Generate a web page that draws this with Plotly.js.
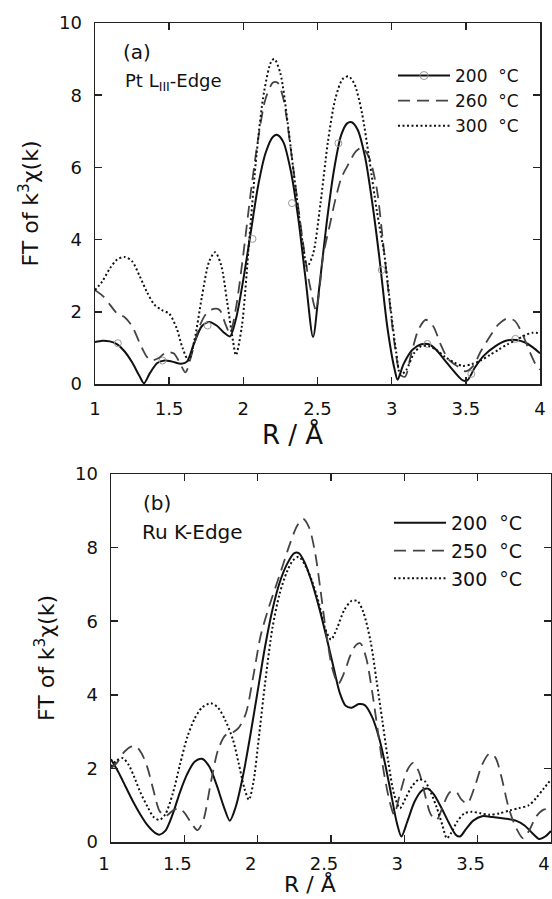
<!DOCTYPE html>
<html>
<head>
<meta charset="utf-8">
<script src="https://cdn.plot.ly/plotly-3.0.1.min.js"></script>
<style>html,body{margin:0;padding:0;background:#fff;}#chart{width:552px;height:899px;}</style>
</head>
<body>
<div id="chart"></div>
<script>
// ---------- Panel (a): Pt LIII-edge ----------
const R_a200 = [1.00,1.05,1.10,1.15,1.20,1.25,1.30,1.33,1.37,1.42,1.47,1.52,1.58,1.62,1.67,1.72,1.77,1.82,1.87,1.91,1.95,2.00,2.05,2.10,2.15,2.20,2.23,2.27,2.32,2.37,2.42,2.47,2.51,2.56,2.61,2.66,2.70,2.73,2.77,2.82,2.87,2.92,2.97,3.02,3.04,3.08,3.14,3.20,3.25,3.30,3.36,3.42,3.48,3.51,3.56,3.62,3.70,3.77,3.84,3.90,3.95,4.00];
const V_a200 = [1.16,1.20,1.18,1.10,0.90,0.60,0.22,0.02,0.30,0.58,0.65,0.62,0.56,0.62,1.15,1.60,1.72,1.62,1.42,1.32,1.80,2.90,4.20,5.50,6.40,6.85,6.90,6.70,5.90,4.60,2.90,1.30,2.60,4.40,5.90,6.90,7.22,7.25,7.05,6.30,5.00,3.40,1.60,0.40,0.12,0.55,0.95,1.10,1.10,0.95,0.65,0.35,0.10,0.10,0.45,0.78,1.05,1.20,1.22,1.15,1.02,0.85];
const R_a200_marks = [1.154,1.455,1.759,2.062,2.328,2.641,2.933,3.241,3.537,3.834];
const V_a200_marks = [1.13,0.65,1.62,4.02,5.01,6.67,3.16,1.11,0.28,1.25];

const R_a260 = [1.00,1.05,1.10,1.15,1.20,1.25,1.30,1.35,1.38,1.43,1.48,1.53,1.57,1.61,1.65,1.70,1.75,1.80,1.84,1.88,1.91,1.95,2.00,2.05,2.10,2.15,2.20,2.23,2.27,2.32,2.37,2.42,2.45,2.49,2.54,2.58,2.62,2.66,2.71,2.76,2.80,2.85,2.90,2.94,2.98,3.02,3.06,3.09,3.13,3.18,3.23,3.28,3.33,3.38,3.44,3.50,3.55,3.60,3.66,3.72,3.78,3.83,3.88,3.93,3.97,4.00];
const V_a260 = [2.60,2.45,2.20,1.95,1.85,1.60,1.15,0.75,0.65,0.72,0.88,0.85,0.60,0.32,0.80,1.55,1.95,2.08,2.05,1.65,1.40,2.10,3.60,5.30,6.80,7.90,8.35,8.35,7.90,6.50,4.90,3.40,2.70,2.05,3.60,4.35,5.10,5.70,6.10,6.45,6.55,6.25,5.40,4.00,2.50,1.10,0.25,0.20,0.80,1.50,1.78,1.60,1.10,0.70,0.50,0.35,0.50,0.90,1.30,1.65,1.82,1.75,1.40,0.90,0.55,0.40];

const R_a300 = [1.00,1.05,1.10,1.15,1.20,1.25,1.30,1.35,1.40,1.45,1.50,1.55,1.59,1.63,1.67,1.72,1.77,1.81,1.85,1.89,1.93,1.95,1.99,2.04,2.09,2.14,2.19,2.21,2.25,2.30,2.35,2.40,2.43,2.47,2.52,2.57,2.62,2.67,2.71,2.75,2.80,2.85,2.90,2.95,2.99,3.03,3.06,3.10,3.15,3.20,3.25,3.30,3.36,3.42,3.48,3.54,3.60,3.66,3.72,3.78,3.84,3.90,3.95,4.00];
const V_a300 = [2.60,2.85,3.20,3.45,3.52,3.40,3.00,2.55,2.20,2.05,1.95,1.55,1.00,0.65,1.20,2.40,3.40,3.65,3.30,2.30,1.20,0.80,1.60,4.00,6.40,8.10,8.95,9.00,8.60,7.20,5.50,3.90,3.25,3.60,5.00,6.70,7.90,8.45,8.52,8.30,7.50,6.20,4.80,3.60,2.20,0.90,0.25,0.40,0.85,1.05,1.05,0.95,0.75,0.60,0.50,0.55,0.65,0.80,0.95,1.10,1.22,1.35,1.42,1.40];

// ---------- Panel (b): Ru K-edge ----------
const R_b200 = [1.00,1.05,1.10,1.15,1.20,1.25,1.30,1.33,1.37,1.42,1.47,1.52,1.57,1.62,1.67,1.72,1.77,1.81,1.85,1.90,1.95,2.00,2.05,2.10,2.15,2.20,2.25,2.28,2.32,2.37,2.42,2.47,2.52,2.56,2.60,2.64,2.69,2.73,2.78,2.83,2.87,2.91,2.95,2.98,3.02,3.07,3.12,3.16,3.20,3.25,3.30,3.35,3.38,3.42,3.47,3.53,3.60,3.68,3.76,3.82,3.87,3.92,3.96,4.00];
const V_b200 = [2.25,1.90,1.50,1.10,0.75,0.45,0.25,0.20,0.30,0.75,1.35,1.85,2.18,2.26,2.05,1.55,0.95,0.58,0.95,1.80,2.90,4.10,5.30,6.30,7.05,7.55,7.85,7.85,7.60,7.05,6.35,5.55,4.70,4.05,3.70,3.65,3.75,3.72,3.40,2.80,2.10,1.30,0.50,0.15,0.55,1.10,1.40,1.45,1.30,0.95,0.55,0.20,0.15,0.35,0.58,0.70,0.68,0.64,0.58,0.45,0.25,0.08,0.15,0.30];

const R_b250 = [1.00,1.04,1.08,1.13,1.17,1.21,1.25,1.29,1.33,1.37,1.42,1.46,1.50,1.55,1.59,1.63,1.68,1.73,1.78,1.82,1.87,1.92,1.97,2.02,2.07,2.12,2.17,2.22,2.27,2.31,2.35,2.39,2.43,2.47,2.51,2.55,2.59,2.63,2.67,2.70,2.74,2.78,2.82,2.86,2.90,2.93,2.97,3.02,3.06,3.10,3.14,3.18,3.22,3.27,3.31,3.35,3.39,3.43,3.48,3.53,3.58,3.62,3.66,3.71,3.76,3.81,3.85,3.90,3.95,4.00];
const V_b250 = [2.00,2.15,2.40,2.58,2.60,2.40,2.00,1.40,0.85,0.70,0.85,0.92,0.80,0.50,0.32,0.60,1.60,2.50,2.90,2.95,3.10,3.50,4.50,5.60,6.30,6.90,7.50,8.10,8.60,8.78,8.55,7.90,6.80,5.60,4.70,4.30,4.60,5.05,5.35,5.40,5.00,4.10,3.00,1.90,1.10,0.75,1.30,1.95,2.15,1.90,1.30,0.75,0.60,1.05,1.35,1.38,1.15,1.05,1.50,2.10,2.40,2.30,1.80,0.95,0.40,0.10,0.30,0.70,0.88,0.90];

const R_b300 = [1.00,1.04,1.08,1.12,1.16,1.20,1.25,1.29,1.33,1.37,1.42,1.47,1.52,1.57,1.62,1.68,1.73,1.78,1.83,1.87,1.91,1.94,1.97,2.01,2.05,2.10,2.15,2.20,2.24,2.28,2.32,2.37,2.42,2.46,2.50,2.54,2.59,2.64,2.68,2.72,2.77,2.81,2.85,2.89,2.93,2.97,3.01,3.05,3.10,3.14,3.18,3.22,3.26,3.29,3.32,3.36,3.41,3.46,3.52,3.58,3.65,3.72,3.78,3.85,3.90,3.95,4.00];
const V_b300 = [2.05,2.22,2.28,2.10,1.75,1.35,0.95,0.68,0.60,0.75,1.30,2.10,2.85,3.35,3.65,3.77,3.65,3.30,2.80,2.15,1.45,1.15,1.60,2.90,4.30,5.80,6.75,7.35,7.65,7.75,7.55,7.10,6.45,5.80,5.50,5.80,6.30,6.55,6.55,6.25,5.45,4.40,3.30,2.20,1.30,0.92,1.20,1.50,1.70,1.65,1.35,0.95,0.45,0.10,0.25,0.55,0.78,0.82,0.78,0.74,0.78,0.86,0.92,1.00,1.20,1.45,1.70];

const xTicks = [1, 1.5, 2, 2.5, 3, 3.5, 4];
const xTickText = ['1', '1.5', '2', '2.5', '3', '3.5', '4'];
const yTicks = [0, 2, 4, 6, 8, 10];
const yTickText = ['0', '2', '4', '6', '8', '10'];
const namesA = ['200\u00a0 \u00b0C', '260\u00a0 \u00b0C', '300\u00a0 \u00b0C'];
const namesB = ['200\u00a0 \u00b0C', '250\u00a0 \u00b0C', '300\u00a0 \u00b0C'];
const xTitle = 'R / \u00c5';
const yTitle = 'FT of k<sup>3</sup>\u03c7(k)';

const FONT = 'DejaVu Sans, Liberation Sans, Arial, sans-serif';
const solid = {color: '#111', width: 2, shape: 'spline', smoothing: 0.8};
const dashed = {color: '#444', width: 1.8, dash: '12px,7px', shape: 'spline', smoothing: 0.8};
const dotted = {color: '#111', width: 2, dash: '2px,2.5px', shape: 'spline', smoothing: 0.8};

const traces = [
  // panel a
  {x: R_a200, y: V_a200, xaxis: 'x', yaxis: 'y', mode: 'lines', line: solid, showlegend: false, hoverinfo: 'skip'},
  {x: R_a200_marks, y: V_a200_marks, xaxis: 'x', yaxis: 'y', mode: 'markers', showlegend: false,
   marker: {symbol: 'circle-open', size: 7, color: '#999', line: {width: 1, color: '#999'}}},
  {x: [null], y: [null], xaxis: 'x', yaxis: 'y', mode: 'lines+markers', name: namesA[0], legend: 'legend',
   line: {color: '#111', width: 2}, marker: {symbol: 'circle-open', size: 8, color: '#999', line: {width: 1, color: '#999'}}},
  {x: R_a260, y: V_a260, xaxis: 'x', yaxis: 'y', mode: 'lines', name: namesA[1], legend: 'legend', line: dashed},
  {x: R_a300, y: V_a300, xaxis: 'x', yaxis: 'y', mode: 'lines', name: namesA[2], legend: 'legend', line: dotted},
  // panel b
  {x: R_b200, y: V_b200, xaxis: 'x2', yaxis: 'y2', mode: 'lines', name: namesB[0], legend: 'legend2', line: solid},
  {x: R_b250, y: V_b250, xaxis: 'x2', yaxis: 'y2', mode: 'lines', name: namesB[1], legend: 'legend2', line: dashed},
  {x: R_b300, y: V_b300, xaxis: 'x2', yaxis: 'y2', mode: 'lines', name: namesB[2], legend: 'legend2', line: dotted}
];

function xAxis(domain, anchor, shift, standoff) {
  return {domain: domain, anchor: anchor, range: [1, 4], tickmode: 'array', tickvals: xTicks, ticktext: xTickText,
    ticks: 'inside', ticklen: 7, tickwidth: 1.5, tickcolor: '#222', mirror: 'ticks', showline: true, linewidth: 1.5,
    linecolor: '#222', showgrid: false, zeroline: false, ticklabelstandoff: standoff, ticklabelshift: shift,
    tickfont: {family: FONT, size: 18, color: '#111'}};
}
function yAxis(domain, anchor) {
  return {domain: domain, anchor: anchor, range: [0, 10], tickmode: 'array', tickvals: yTicks, ticktext: yTickText,
    ticks: 'inside', ticklen: 7, tickwidth: 1.5, tickcolor: '#222', mirror: 'ticks', showline: true, linewidth: 1.5,
    linecolor: '#222', showgrid: false, zeroline: false, ticklabelstandoff: 8,
    tickfont: {family: FONT, size: 18, color: '#111'},
    title: {text: yTitle, font: {family: FONT, size: 22, color: '#111'}, standoff: 14}};
}

const layout = {
  width: 552, height: 899,
  margin: {l: 0, r: 0, t: 0, b: 0},
  paper_bgcolor: '#fff', plot_bgcolor: '#fff',
  font: {family: FONT, color: '#111'},
  xaxis: xAxis([95/552, 540/552], 'y', 0, 8),
  yaxis: yAxis([1 - 384/899, 1 - 23/899], 'x'),
  xaxis2: xAxis([111/552, 551/552], 'y2', -7, 5),
  yaxis2: yAxis([1 - 842/899, 1 - 474/899], 'x2'),
  legend: {x: 393/552, y: 1 - 58/899, xanchor: 'left', yanchor: 'top', bgcolor: 'rgba(0,0,0,0)',
    itemwidth: 52, font: {family: FONT, size: 17, color: '#111'}, tracegroupgap: 0},
  legend2: {x: 389/552, y: 1 - 504/899, xanchor: 'left', yanchor: 'top', bgcolor: 'rgba(0,0,0,0)',
    itemwidth: 52, font: {family: FONT, size: 19, color: '#111'}, tracegroupgap: 0},
  annotations: [
    {xref: 'paper', yref: 'paper', x: 292/552, y: 1 - 434/899, xanchor: 'center', yanchor: 'middle', showarrow: false,
     text: xTitle, font: {family: FONT, size: 26, color: '#111'}},
    {xref: 'paper', yref: 'paper', x: 310/552, y: 0, xanchor: 'center', yanchor: 'bottom', showarrow: false,
     text: xTitle, font: {family: FONT, size: 22, color: '#111'}},
    {xref: 'paper', yref: 'paper', x: 121/552, y: 1 - 52/899, xanchor: 'left', yanchor: 'middle', showarrow: false,
     text: '(a)', font: {family: FONT, size: 20, color: '#111'}},
    {xref: 'paper', yref: 'paper', x: 123/552, y: 1 - 82/899, xanchor: 'left', yanchor: 'middle', showarrow: false,
     text: 'Pt L<sub>III</sub>-Edge', font: {family: FONT, size: 18, color: '#111'}},
    {xref: 'paper', yref: 'paper', x: 141/552, y: 1 - 503/899, xanchor: 'left', yanchor: 'middle', showarrow: false,
     text: '(b)', font: {family: FONT, size: 20, color: '#111'}},
    {xref: 'paper', yref: 'paper', x: 140/552, y: 1 - 532/899, xanchor: 'left', yanchor: 'middle', showarrow: false,
     text: 'Ru K-Edge', font: {family: FONT, size: 20, color: '#111'}}
  ]
};

Plotly.newPlot('chart', traces, layout, {displayModeBar: false, staticPlot: true});
</script>
</body>
</html>
